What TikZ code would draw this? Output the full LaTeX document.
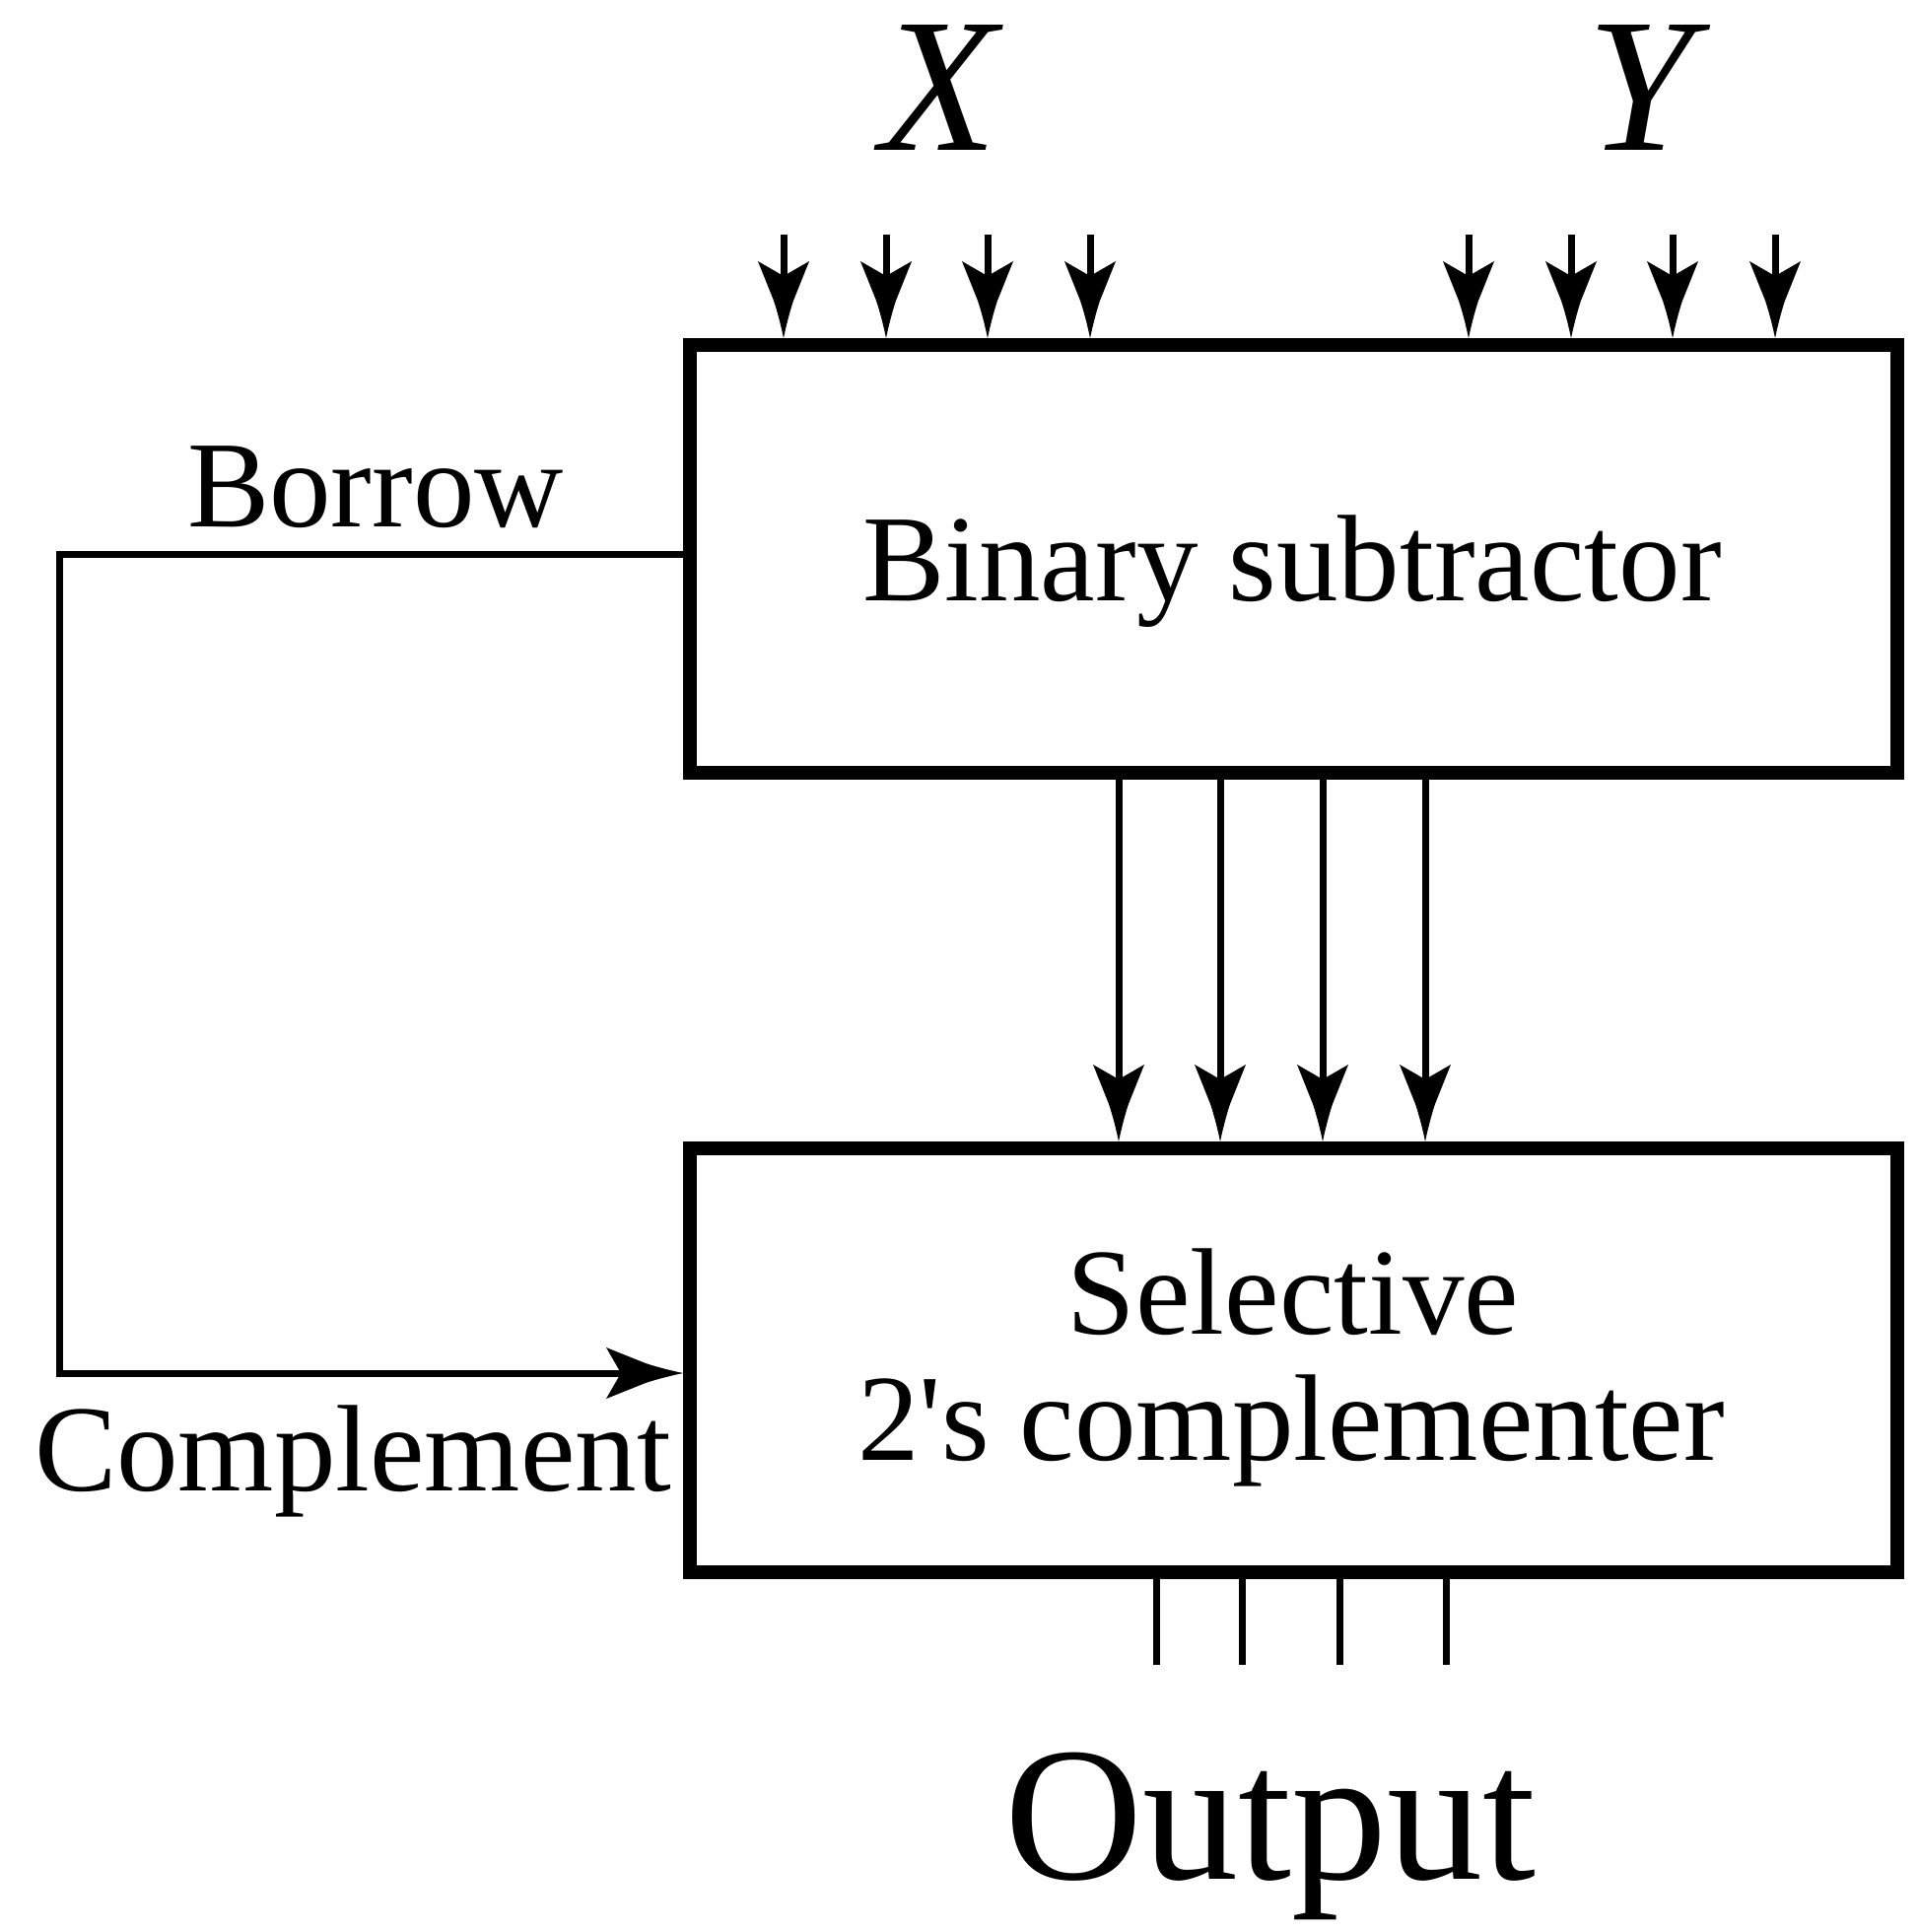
\documentclass[tikz,border=0pt]{standalone}
\usepackage{fontspec}
\setmainfont{Liberation Serif}[Ligatures=TeXOff]
\usetikzlibrary{arrows.meta}
\pgfdeclarearrow{
  name = Dart,
  setup code = {
    \pgfarrowssettipend{0pt}
    \pgfarrowssetlineend{-50pt}
    \pgfarrowssetbackend{-78pt}
    \pgfarrowssetvisualbackend{-63pt}
    \pgfarrowsupperhullpoint{-78pt}{26pt}
    \pgfarrowsupperhullpoint{0pt}{0pt}
  },
  drawing code = {
    \pgfpathmoveto{\pgfqpoint{0pt}{0pt}}
    \pgfpathcurveto{\pgfqpoint{-12pt}{2.5pt}}{\pgfqpoint{-26pt}{6pt}}{\pgfqpoint{-38pt}{10pt}}
    \pgfpathlineto{\pgfqpoint{-78pt}{26pt}}
    \pgfpathlineto{\pgfqpoint{-63pt}{0pt}}
    \pgfpathlineto{\pgfqpoint{-78pt}{-26pt}}
    \pgfpathlineto{\pgfqpoint{-38pt}{-10pt}}
    \pgfpathcurveto{\pgfqpoint{-26pt}{-6pt}}{\pgfqpoint{-12pt}{-2.5pt}}{\pgfqpoint{0pt}{0pt}}
    \pgfpathclose
    \pgfusepathqfill
  }
}
\tikzset{
  blockbox/.style={draw, line width=14pt, minimum width=1225pt, inner sep=0pt},
  wire/.style={line width=7pt},
  arr/.style={wire, -{Dart}},
  lbl/.style={inner sep=0pt, anchor=base, font=\fontsize{125pt}{130pt}\selectfont},
  biglbl/.style={inner sep=0pt, anchor=base, font=\fontsize{194pt}{200pt}\selectfont},
}
\begin{document}
\begin{tikzpicture}[x=1pt, y=-1pt]
\useasboundingbox (0,0) rectangle (1946,1960);
% blocks
\node[blockbox, minimum height=434pt] (sub) at (1312.5,567) {};
\node[blockbox, minimum height=430pt] (comp) at (1312.5,1380) {};
% texts
\node[lbl] (subtxt) at (1311,609) {Binary subtractor};
\node[lbl] (comptxt1) at (1312,1353) {Selective};
\node[lbl] (comptxt2) at (1310,1481) {2's complementer};
\node[lbl] (borrow) at (381,534) {Borrow};
\node[lbl] (complement) at (358,1512) {Complement};
\node[biglbl] (xlab) at (956,152) {\textit{X}};
\node[biglbl] (ylab) at (1673,152) {\textit{Y}};
\node[biglbl] (outlab) at (1289,1906) {Output};
% input arrows
\foreach \i/\xx in {1/795,2/899,3/1002,4/1106,5/1490,6/1594,7/1697,8/1801}{
  \coordinate (in\i) at (\xx,238);
  \draw[arr] (in\i) -- (in\i |- sub.north);
}
% middle arrows
\foreach \i/\xx in {1/1135,2/1238,3/1342,4/1446}{
  \coordinate (mid\i) at (\xx,700);
  \draw[arr] (mid\i |- sub.south) -- (mid\i |- comp.north);
}
% output lines
\foreach \i/\xx in {1/1173,2/1260,3/1359,4/1467}{
  \coordinate (out\i) at (\xx,1689);
  \draw[wire] (out\i |- comp.south) -- (out\i);
}
% borrow feedback
\coordinate (bl) at (60,562);
\coordinate (cl) at (60,1393);
\draw[arr] (sub.west |- bl) -- (bl) -- (cl) -- (cl -| comp.west);
\end{tikzpicture}
\end{document}
